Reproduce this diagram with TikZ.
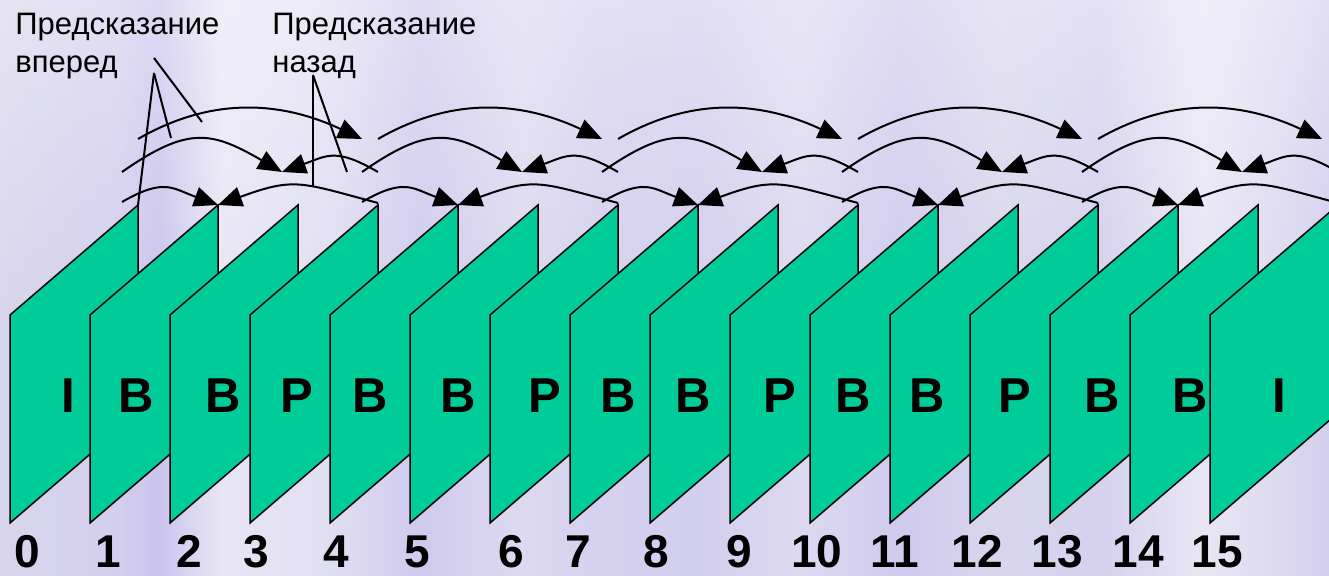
\documentclass[tikz,border=0pt]{standalone}
\usepackage{fontspec}
\setmainfont{Liberation Sans}
\usetikzlibrary{positioning, arrows.meta, calc, fadings}

\definecolor{framegreen}{RGB}{0,204,153}
\definecolor{bgA}{RGB}{216,214,236}
\definecolor{bgB}{RGB}{210,206,238}
\definecolor{bgC}{RGB}{202,196,238}
\definecolor{bgD}{RGB}{232,230,244}
\definecolor{bgE}{RGB}{224,222,242}
\definecolor{bgF}{RGB}{207,202,238}
\definecolor{bgG}{RGB}{220,217,240}
\definecolor{bgH}{RGB}{212,208,238}

% streaky lavender background, 25bp..75bp is the picture width
\pgfdeclarehorizontalshading{bgstreaks}{100bp}{color(0bp)=(bgA); color(25bp)=(bgA);
  color(29.5bp)=(bgB); color(31bp)=(bgC); color(33.3bp)=(bgD); color(37.4bp)=(bgE);
  color(40.8bp)=(bgF); color(44.6bp)=(bgG); color(47.6bp)=(bgH); color(51.3bp)=(bgB);
  color(55.1bp)=(bgG); color(58.9bp)=(bgF); color(62.6bp)=(bgA); color(66.4bp)=(bgH);
  color(70.2bp)=(bgD); color(73.2bp)=(bgG); color(75bp)=(bgB); color(100bp)=(bgB)}

\begin{document}
\begin{tikzpicture}[x=0.5pt, y=0.5pt,
	picbox/.style={fill=framegreen, draw=black, line width=0.75pt},
	typelbl/.style={font=\fontsize{24.5}{28}\selectfont\bfseries, inner sep=0pt, anchor=base},
	numlbl/.style={font=\fontsize{23}{28}\selectfont\bfseries, inner sep=0pt, anchor=base},
	notetext/.style={font=\fontsize{15.5}{19}\selectfont, align=left, inner sep=0pt, anchor=base west},
	predarc/.style={draw=black, line width=1pt, -{Triangle[length=12pt,width=10pt]}},
	noteline/.style={draw=black, line width=1pt}]
	
	\clip (0,0) rectangle (1329,-576);
	\shade[shading=bgstreaks] (0,0) rectangle (1329,-576);
	\fill[white, fill opacity=0.35, path fading=south] (0,0) rectangle (1329,-320);
	
	%Frames
	\foreach \k in {0,...,15}{
		\pgfmathsetmacro{\xl}{10+80*\k}
		\pgfmathsetmacro{\xr}{138+80*\k}
		\draw[picbox] (\xl,-523) -- (\xl,-315) -- (\xr,-205) -- (\xr,-413) -- cycle;
		\coordinate (top\k) at (\xr,-205);
		\coordinate (hiA\k) at (\xr,-139);
		\coordinate (hiB\k) at (\xr-16,-139);
		\coordinate (midA\k) at (\xr,-172);
		\coordinate (midB\k) at (\xr-16,-172);
		\coordinate (lowA\k) at (\xr,-203);
		\coordinate (lowB\k) at (\xr-16,-202);
	}
	
	%Nodes
	\foreach \t/\x [count=\k from 0] in {I/68, B/136, B/223, P/297, B/370, B/458, P/545, B/618,
		B/693, P/780, B/853, B/927, P/1015, B/1102, B/1190, I/1279}
		\node[typelbl] (type\k) at (\x,-413) {\t};
	
	\foreach \x [count=\k from 0] in {27, 108, 189, 256, 336, 417, 511, 578, 656, 739, 817,
		895, 977, 1057, 1138, 1217}
		\node[numlbl] (num\k) at (\x,-568) {\k};
	
	\node[notetext] (fwdnote) at (15,-73) {Предсказание\\вперед};
	\node[notetext] (bwdnote) at (272,-73) {Предсказание\\назад};
	
	\coordinate (fwdpin) at (154,-73);
	\coordinate (fwdpinB) at (154,-58);
	\coordinate (fwdend) at (171,-138);
	\coordinate (fwdendB) at (202,-122);
	\coordinate (bwdpin) at (313,-75);
	\coordinate (bwdend) at (313,-187);
	\coordinate (bwdendB) at (347,-172);
	
	%Links
	\foreach \i [evaluate=\i as \j using int(\i+3)] in {0,3,6,9,12}
		\draw[predarc] (hiA\i) to [out=30,in=155] (hiB\j);
	
	\foreach \f [evaluate=\f as \p using int(\f-2), evaluate=\f as \n using int(\f+1)] in {2,5,8,11,14}{
		\draw[predarc] (midB\p) to [out=35,in=150,looseness=1.3] (midB\f);
		\draw[predarc] (midA\n) to [out=150,in=20,looseness=1.3] (midB\f);
	}
	
	\foreach \f [evaluate=\f as \p using int(\f-1), evaluate=\f as \n using int(\f+2)] in {1,4,7,10,13}{
		\draw[predarc] (lowB\p) to [out=30,in=160,looseness=1.3] (top\f);
		\draw[predarc] (lowA\n) to [out=165,in=20,looseness=1.3] (top\f);
	}
	
	\draw[noteline] (fwdpinB) -- (fwdendB);
	\draw[noteline] (fwdpin) -- (fwdend);
	\draw[noteline] (fwdpin) -- (top0);
	\draw[noteline] (bwdpin) -- (bwdend);
	\draw[noteline] (bwdpin) -- (bwdendB);
	
\end{tikzpicture}
\end{document}
